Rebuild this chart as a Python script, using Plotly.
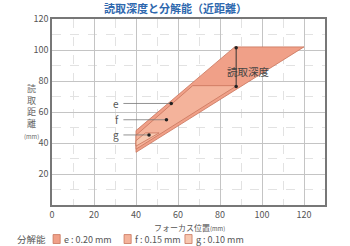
import plotly.graph_objects as go

# Region polygons (focus position x, reading distance y)
e_x = [40, 120, 87, 40, 40]
e_y = [34, 102, 102, 48, 34]
f_x = [40, 88, 67, 40, 40]
f_y = [36, 77, 77, 45, 36]
g_x = [40, 51, 44.5, 40, 40]
g_y = [38, 46.5, 46.5, 41.5, 38]

series_names = ["e : 0.20 mm", "f : 0.15 mm", "g : 0.10 mm"]
fill_colors = ["#F0A088", "#F4B39B", "#F7C8B0"]
line_color = "#C9755C"

# label pointers
lab_names = ["e", "f", "g"]
lab_dot_x = [56.8, 54.5, 46.2]
lab_dot_y = [65.5, 55.0, 45.2]
lab_start_x = 34

# reading depth arrow
depth_x = 87.7
depth_y0, depth_y1 = 76.5, 101.5

FONT = "Noto Sans CJK JP"

fig = go.Figure()
for xs, ys, nm, col in zip([e_x, f_x, g_x], [e_y, f_y, g_y], series_names, fill_colors):
    fig.add_trace(go.Scatter(x=xs, y=ys, fill="toself", fillcolor=col, mode="lines",
                             line=dict(color=line_color, width=0.8), name=nm,
                             hoverinfo="skip", showlegend=False))

for n, dx, dy in zip(lab_names, lab_dot_x, lab_dot_y):
    fig.add_trace(go.Scatter(x=[lab_start_x, dx], y=[dy, dy], mode="lines",
                             line=dict(color="#777", width=0.8), showlegend=False, hoverinfo="skip"))
    fig.add_trace(go.Scatter(x=[dx], y=[dy], mode="markers",
                             marker=dict(color="#222", size=3.5), showlegend=False, hoverinfo="skip"))
    fig.add_annotation(x=lab_start_x - 1.2, y=dy, text=n, showarrow=False, xanchor="right",
                       font=dict(family=FONT, size=10, color="#555"))

fig.add_trace(go.Scatter(x=[depth_x, depth_x], y=[depth_y0, depth_y1], mode="lines+markers",
                         line=dict(color="#333", width=1),
                         marker=dict(color="#222", size=3.5), showlegend=False, hoverinfo="skip"))
fig.add_annotation(x=93.5, y=86, text="読取深度", showarrow=False,
                   font=dict(family=FONT, size=10.5, color="#444"))

# title
fig.add_annotation(xref="paper", yref="paper", x=0.454, y=1.0, yanchor="middle", yshift=11,
                   text="<b>読取深度と分解能（近距離）</b>",
                   showarrow=False, font=dict(family=FONT, size=11, color="#2E68AE"))
# y axis title
fig.add_annotation(xref="paper", yref="paper", x=-0.11, y=0.505, yanchor="middle",
                   text="読<br>取<br>距<br>離<br><span style='font-size:6px'>(mm)</span>",
                   showarrow=False, align="center",
                   font=dict(family=FONT, size=9, color="#666"))
# x axis title
fig.add_annotation(xref="paper", yref="paper", x=0.502, y=0, yanchor="middle", yshift=-22,
                   text="フォーカス位置<span style='font-size:6px'>(mm)</span>",
                   showarrow=False, font=dict(family=FONT, size=8, color="#555"))

# legend
fig.add_annotation(xref="paper", yref="paper", x=-0.136, y=0, yanchor="middle", yshift=-34,
                   xanchor="left", text="分解能", showarrow=False,
                   font=dict(family=FONT, size=9.5, color="#555"))
leg_x = [0.004, 0.264, 0.487]
for nm, col, lx in zip(series_names, fill_colors, leg_x):
    fig.add_shape(type="rect", xref="paper", yref="paper", x0=lx, x1=lx + 0.026,
                  y0=-0.207, y1=-0.159, fillcolor=col, line=dict(color=line_color, width=0.8))
    fig.add_annotation(xref="paper", yref="paper", x=lx + 0.034, y=0, yanchor="middle", yshift=-34,
                       xanchor="left", text=nm, showarrow=False,
                       font=dict(family=FONT, size=9, color="#555"))

axis_common = dict(showline=True, linecolor="#777", linewidth=1.5, mirror=True,
                   gridcolor="#c4c4c4", gridwidth=1, zeroline=False,
                   tickfont=dict(family=FONT, size=9, color="#555"), ticks="",
                   minor=dict(dtick=10, showgrid=True, gridcolor="#e2e2e2", griddash="dash", gridwidth=1))

fig.update_xaxes(range=[0, 130], tickvals=[0, 20, 40, 60, 80, 100, 120], **axis_common)
fig.update_yaxes(range=[0, 120], tickvals=[20, 40, 60, 80, 100, 120], **axis_common)

fig.update_layout(width=350, height=246, margin=dict(l=52, r=25, t=19, b=41),
                  plot_bgcolor="white", paper_bgcolor="white", showlegend=False,
                  font=dict(family=FONT))

fig.write_html("out.html")
